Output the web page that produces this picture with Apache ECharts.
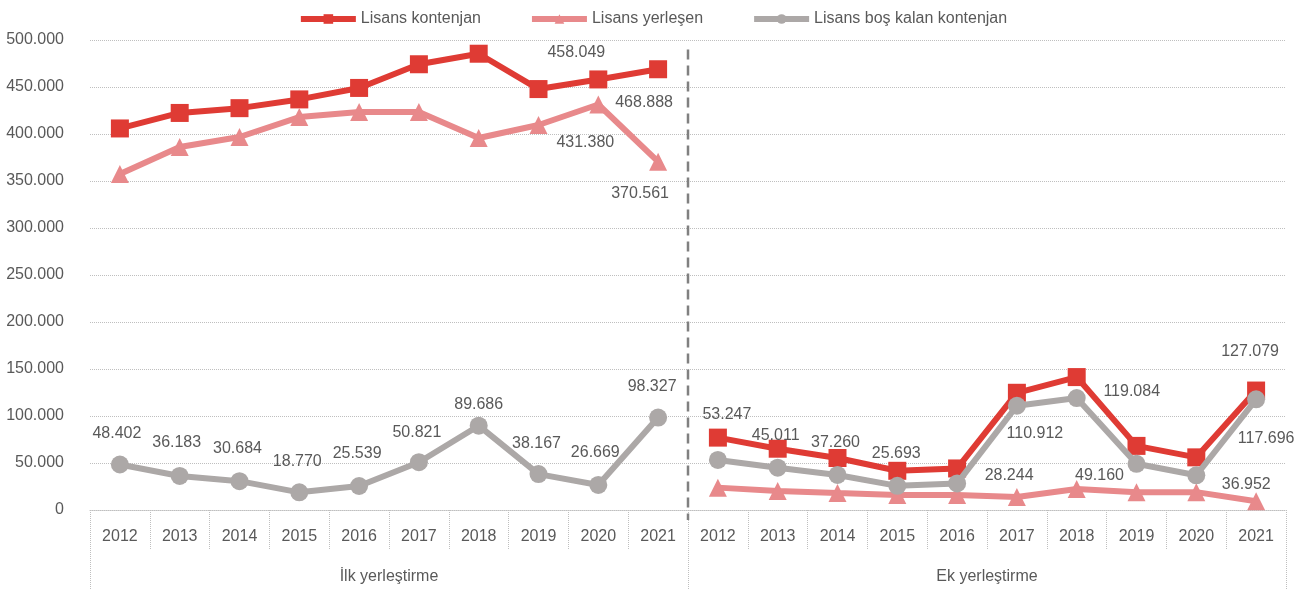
<!DOCTYPE html>
<html>
<head>
<meta charset="utf-8">
<script src="https://cdn.jsdelivr.net/npm/echarts@6/dist/echarts.min.js"></script>
<style>html,body{margin:0;padding:0;background:#fff;}#c{width:1305px;height:593px;}</style>
</head>
<body>
<div id="c"></div>
<script>
const years = ['2012','2013','2014','2015','2016','2017','2018','2019','2020','2021'];
const groups = ['İlk yerleştirme','Ek yerleştirme'];
const seriesNames = ['Lisans kontenjan','Lisans yerleşen','Lisans boş kalan kontenjan'];

const ilkKontenjan = [405900, 422400, 427500, 436800, 449000, 474200, 485400, 447800, 458049, 468888];
const ilkYerlesen  = [357500, 386200, 396800, 418000, 423500, 423400, 395700, 409600, 431380, 370561];
const ilkBos       = [48402, 36183, 30684, 18770, 25539, 50821, 89686, 38167, 26669, 98327];

const ekKontenjan  = [77000, 65200, 55300, 41700, 44200, 124700, 141400, 68200, 56000, 127079];
const ekYerlesen   = [23800, 20200, 18000, 16000, 16000, 13800, 22300, 19000, 19000, 9383];
const ekBos        = [53247, 45011, 37260, 25693, 28244, 110912, 119084, 49160, 36952, 117696];

const yTicks = {min: 0, max: 500000, interval: 50000};

// label placement (pixel offsets relative to the point), by series and index
const labelPlacement = {
  ilkKontenjan: {8: [-22, -27], 9: [-14, 33]},
  ilkYerlesen:  {8: [-13, 38], 9: [-18, 32]},
  ilkBos: {0: [-3, -31], 1: [-3, -33], 2: [-2, -33], 3: [-2, -31], 4: [-2, -32], 5: [-2, -30], 6: [0, -21], 7: [-2, -31], 8: [-3, -32], 9: [-6, -31]},
  ekKontenjan: {9: [-6, -39]},
  ekYerlesen: {},
  ekBos: {0: [9, -45], 1: [-2, -32], 2: [-2, -32], 3: [-1, -32], 4: [52, -8], 5: [18, 28], 6: [55, -6], 7: [-37, 12], 8: [50, 9], 9: [10, 39]}
};

const FONT = "'Liberation Sans', Arial, sans-serif";
const FS = 16;
const TXT = '#595959';
const COLORS = ['#DF3B34', '#E8898B', '#ACA8A7'];
const SYMBOLS = ['rect', 'triangle', 'circle'];

function fmt(v) { return String(Math.round(v)).replace(/\B(?=(\d{3})+(?!\d))/g, '.'); }

const cats = years.concat(years);
const empty = years.map(() => '-');

function buildData(values, placement, first) {
  const items = values.map((v, i) => {
    const p = placement[i];
    const it = {value: v};
    if (p) it.label = {show: true, position: 'inside', offset: p, formatter: fmt(v)};
    return it;
  });
  return first ? items.concat(empty) : empty.concat(items);
}

function mkSeries(idx, values, placement, first) {
  return {
    name: seriesNames[idx],
    type: 'line',
    xAxisIndex: 0,
    yAxisIndex: 0,
    data: buildData(values, placement, first),
    symbol: SYMBOLS[idx],
    symbolSize: 18,
    connectNulls: false,
    lineStyle: {width: 6, color: COLORS[idx]},
    itemStyle: {color: COLORS[idx]},
    label: {show: false, fontFamily: FONT, fontSize: FS, color: TXT},
    emphasis: {disabled: true},
    z: 2 + idx
  };
}

const series = [
  mkSeries(0, ilkKontenjan, labelPlacement.ilkKontenjan, true),
  mkSeries(1, ilkYerlesen, labelPlacement.ilkYerlesen, true),
  mkSeries(2, ilkBos, labelPlacement.ilkBos, true),
  mkSeries(0, ekKontenjan, labelPlacement.ekKontenjan, false),
  mkSeries(1, ekYerlesen, labelPlacement.ekYerlesen, false),
  mkSeries(2, ekBos, labelPlacement.ekBos, false),
  {
    name: 'separator',
    type: 'custom', xAxisIndex: 2, yAxisIndex: 0, silent: true, clip: false,
    data: [[years.length]],
    encode: {x: 0},
    renderItem: function (params, api) {
      const top = api.coord([api.value(0), 490000]);
      const bot = api.coord([api.value(0), 0]);
      return {
        type: 'line',
        shape: {x1: top[0], y1: top[1], x2: bot[0], y2: bot[1] + 10},
        style: {stroke: '#808080', lineWidth: 2.5, lineDash: [10, 6]}
      };
    },
    z: 1
  }
];

const chart = echarts.init(document.getElementById('c'), null, {renderer: 'canvas'});
chart.setOption({
  animation: false,
  backgroundColor: '#fff',
  legend: {
    data: seriesNames,
    top: 6,
    left: 'center',
    itemWidth: 55,
    itemHeight: 12,
    itemGap: 48,
    lineStyle: {width: 6},
    textStyle: {fontFamily: FONT, fontSize: FS, color: TXT}
  },
  grid: {left: 90, right: 19, top: 40, bottom: 83, containLabel: false},
  xAxis: [
    {
      type: 'category', data: cats, position: 'bottom', boundaryGap: true,
      axisLine: {show: true, lineStyle: {color: '#BFBFBF', type: 'dotted', width: 1}},
      axisTick: {show: true, interval: 0, length: 40, lineStyle: {color: '#BFBFBF', type: 'dotted'}},
      axisLabel: {interval: 0, margin: 19, fontFamily: FONT, fontSize: FS, color: TXT},
      splitLine: {show: false}
    },
    {
      type: 'category', data: groups, position: 'bottom', boundaryGap: true,
      axisLine: {show: false},
      axisTick: {show: true, interval: 0, length: 80, lineStyle: {color: '#BFBFBF', type: 'dotted'}},
      axisLabel: {interval: 0, margin: 59, fontFamily: FONT, fontSize: FS, color: TXT},
      splitLine: {show: false}
    },
    {type: 'value', min: 0, max: cats.length, show: false}
  ],
  yAxis: {
    type: 'value', min: yTicks.min, max: yTicks.max, interval: yTicks.interval,
    axisLine: {show: false}, axisTick: {show: false},
    axisLabel: {margin: 26, fontFamily: FONT, fontSize: FS, color: TXT, formatter: fmt},
    splitLine: {show: true, lineStyle: {color: '#BFBFBF', type: 'dotted', width: 1}}
  },
  series: series
});
</script>
</body>
</html>
